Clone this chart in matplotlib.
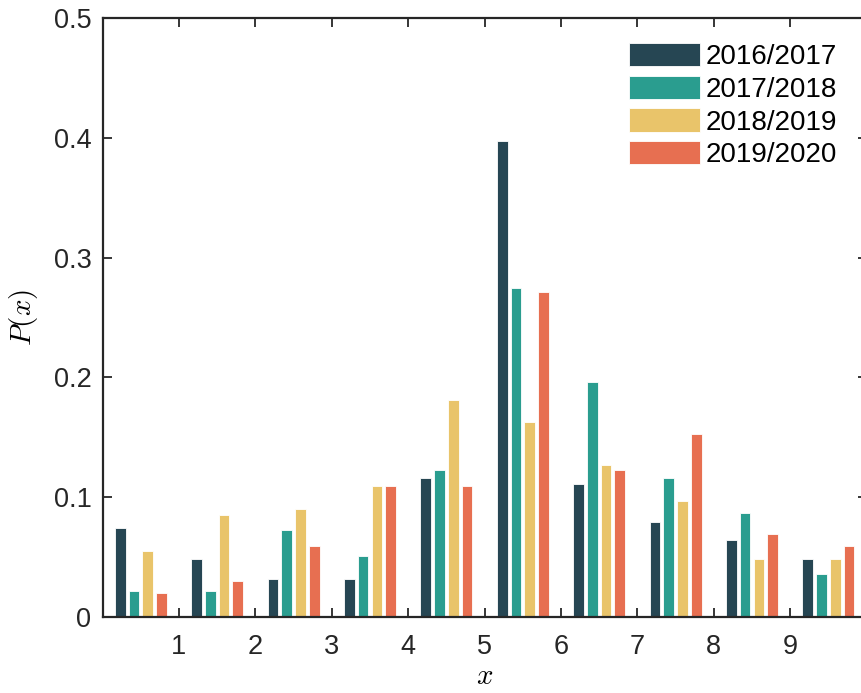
import numpy as np
import matplotlib
matplotlib.use("Agg")
import matplotlib.pyplot as plt

plt.rcParams['font.family'] = ['Liberation Sans', 'DejaVu Sans']
plt.rcParams['mathtext.fontset'] = 'cm'

# bin centres and probabilities per season
bins = np.arange(10) + 0.5
seasons = ['2016/2017', '2017/2018', '2018/2019', '2019/2020']
p_1617 = [0.074, 0.048, 0.032, 0.032, 0.116, 0.397, 0.111, 0.079, 0.064, 0.048]
p_1718 = [0.022, 0.022, 0.073, 0.051, 0.123, 0.275, 0.196, 0.116, 0.087, 0.036]
p_1819 = [0.055, 0.085, 0.090, 0.109, 0.181, 0.163, 0.127, 0.097, 0.048, 0.048]
p_1920 = [0.020, 0.030, 0.059, 0.109, 0.109, 0.271, 0.123, 0.153, 0.069, 0.059]
colors = ['#264653', '#2a9d8f', '#e9c46a', '#e76f51']

fig = plt.figure(figsize=(8.62, 6.93), dpi=100)
ax = fig.add_axes([102.6/862, 76/693, 764/862, 599/693])

series = [p_1617, p_1718, p_1819, p_1920]
offsets = [-0.27, -0.09, 0.09, 0.27]
for vals, off, col, lab in zip(series, offsets, colors, seasons):
    ax.bar(bins + off, vals, width=0.14, color=col, label=lab,
           edgecolor='white', linewidth=0.6)

ax.set_xlim(0, 10)
ax.set_ylim(0, 0.5)
ax.set_xticks(range(1, 10))
ax.set_yticks([0, 0.1, 0.2, 0.3, 0.4, 0.5])
ax.set_yticklabels(['0', '0.1', '0.2', '0.3', '0.4', '0.5'])
ax.tick_params(direction='in', length=6.5, width=1.3, labelsize=19.5,
               colors='#262626', top=True, right=True, pad=8)
ax.tick_params(axis='x', pad=12)
for s in ax.spines.values():
    s.set_linewidth(1.6)
    s.set_color('#262626')

ax.set_xlabel('$x$', fontsize=21, labelpad=2)
ax.set_ylabel('$P(x)$', fontsize=21, labelpad=10)

ax.legend(loc='upper right', bbox_to_anchor=(0.961, 0.958), frameon=False,
          fontsize=20, handlelength=2.55, handleheight=0.9,
          handletextpad=0.2, labelspacing=0.2, borderaxespad=0,
          borderpad=0)

fig.savefig('out.png', dpi=100)
